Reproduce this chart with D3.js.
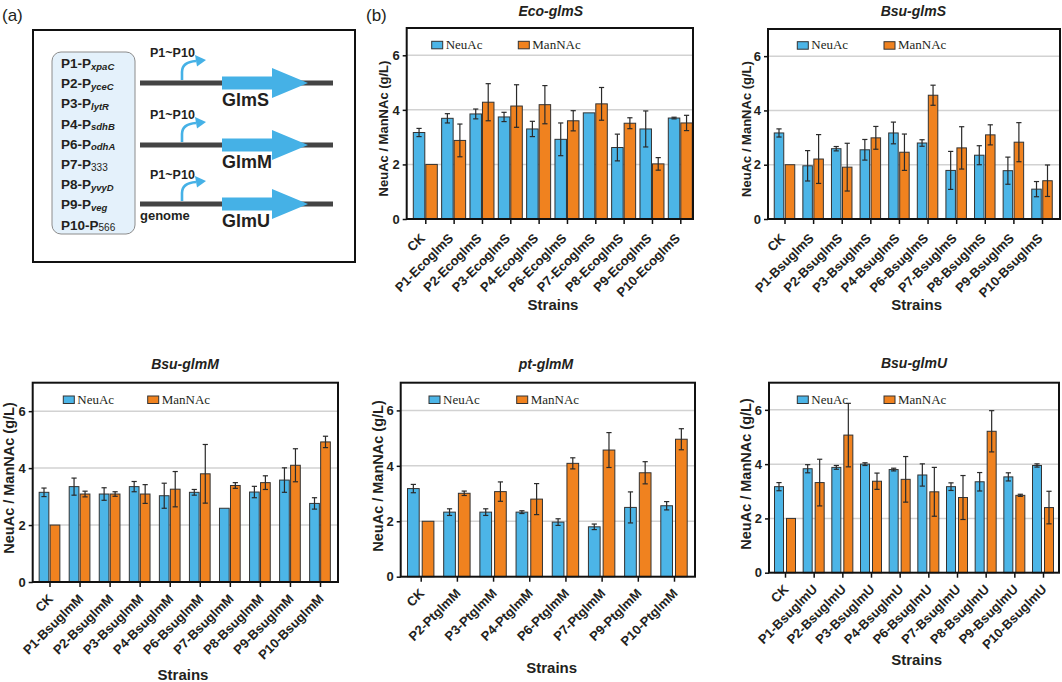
<!DOCTYPE html>
<html><head><meta charset="utf-8">
<script src="https://cdn.jsdelivr.net/npm/d3@7"></script>
<style>body{margin:0;background:#fff} svg{display:block}</style>
</head><body>
<svg id="c" width="1062" height="682"></svg>
<script>
// ---------- data ----------
const seriesNames = ["NeuAc", "ManNAc"];
const yTickValues = [0, 2, 4, 6];
const yDomainMax = 7;

const ecoCategories = ["CK","P1-EcoglmS","P2-EcoglmS","P3-EcoglmS","P4-EcoglmS","P6-EcoglmS","P7-EcoglmS","P8-EcoglmS","P9-EcoglmS","P10-EcoglmS"];
const ecoNeuAc     = [3.17,3.69,3.85,3.74,3.30,2.92,3.89,2.62,3.30,3.70];
const ecoNeuAcErr  = [0.15,0.17,0.18,0.17,0.28,0.60,0.00,0.49,0.66,0.03];
const ecoManNAc    = [2.00,2.88,4.28,4.14,4.19,3.60,4.22,3.51,2.02,3.52];
const ecoManNAcErr = [0.01,0.60,0.68,0.78,0.70,0.37,0.60,0.20,0.23,0.28];

const bsuSCategories = ["CK","P1-BsuglmS","P2-BsuglmS","P3-BsuglmS","P4-BsuglmS","P6-BsuglmS","P7-BsuglmS","P8-BsuglmS","P9-BsuglmS","P10-BsuglmS"];
const bsuSNeuAc     = [3.17,1.96,2.59,2.55,3.17,2.80,1.79,2.35,1.78,1.10];
const bsuSNeuAcErr  = [0.15,0.56,0.08,0.38,0.40,0.12,0.70,0.35,0.50,0.28];
const bsuSManNAc    = [2.00,2.21,1.91,2.99,2.46,4.56,2.62,3.10,2.83,1.41];
const bsuSManNAcErr = [0.02,0.90,0.88,0.42,0.67,0.37,0.78,0.37,0.72,0.58];

const bsuMCategories = ["CK","P1-BsuglmM","P2-BsuglmM","P3-BsuglmM","P4-BsuglmM","P6-BsuglmM","P7-BsuglmM","P8-BsuglmM","P9-BsuglmM","P10-BsuglmM"];
const bsuMNeuAc     = [3.15,3.35,3.09,3.35,3.03,3.15,2.59,3.16,3.58,2.76];
const bsuMNeuAcErr  = [0.15,0.30,0.22,0.18,0.44,0.10,0.01,0.20,0.43,0.20];
const bsuMManNAc    = [2.00,3.09,3.09,3.09,3.26,3.80,3.39,3.49,4.10,4.92];
const bsuMManNAcErr = [0.01,0.10,0.08,0.33,0.62,1.03,0.10,0.24,0.58,0.20];

const ptMCategories = ["CK","P2-PtglmM","P3-PtglmM","P4-PtglmM","P6-PtglmM","P7-PtglmM","P9-PtglmM","P10-PtglmM"];
const ptMNeuAc     = [3.18,2.33,2.33,2.33,1.97,1.80,2.50,2.56];
const ptMNeuAcErr  = [0.15,0.12,0.12,0.05,0.12,0.10,0.56,0.15];
const ptMManNAc    = [2.00,3.01,3.07,2.80,4.09,4.57,3.75,4.96];
const ptMManNAcErr = [0.01,0.08,0.35,0.56,0.20,0.63,0.40,0.38];

const bsuUCategories = ["CK","P1-BsuglmU","P2-BsuglmU","P3-BsuglmU","P4-BsuglmU","P6-BsuglmU","P7-BsuglmU","P8-BsuglmU","P9-BsuglmU","P10-BsuglmU"];
const bsuUNeuAc     = [3.17,3.83,3.88,4.00,3.80,3.60,3.17,3.35,3.53,3.95];
const bsuUNeuAcErr  = [0.15,0.15,0.07,0.05,0.05,0.41,0.14,0.34,0.15,0.06];
const bsuUManNAc    = [2.00,3.32,5.07,3.37,3.44,2.98,2.77,5.21,2.85,2.40];
const bsuUManNAcErr = [0.01,0.86,1.17,0.30,0.84,0.90,0.81,0.76,0.04,0.60];

const promoterNames = ["P1","P2","P3","P4","P6","P7","P8","P9","P10"];
const promoterSubs  = ["xpaC","yceC","lytR","sdhB","odhA","333","yvyD","veg","566"];
const geneNames = ["GlmS","GlmM","GlmU"];

// ---------- style ----------
const BLUE = "#4cb5e7", ORANGE = "#f0821f", DARK = "#231f20";
const SANS = "'Liberation Sans', Arial, Helvetica, sans-serif";
const SERIF = "'Liberation Serif', 'Times New Roman', serif";

const svg = d3.select("#c");
svg.append("rect").attr("width",1062).attr("height",682).attr("fill","#fff");

// ---------- panel (a) ----------
const pa = svg.append("g");
pa.append("text").attr("x",2).attr("y",21).attr("font-family",SANS).attr("font-size",17).attr("fill",DARK).text("(a)");
pa.append("rect").attr("x",33).attr("y",30).attr("width",322).attr("height",232)
  .attr("fill","none").attr("stroke","#111").attr("stroke-width",2);
pa.append("rect").attr("x",52).attr("y",52).attr("width",83).attr("height",182).attr("rx",9)
  .attr("fill","#e4f1fb").attr("stroke","#8c8c8c").attr("stroke-width",1);
promoterNames.forEach((p,i) => {
  const t = pa.append("text").attr("x",61).attr("y",68 + i*20.2)
    .attr("font-family",SANS).attr("font-weight","bold").attr("font-size",13.5).attr("fill",DARK);
  t.append("tspan").text(p + "-P");
  const isNum = /^\d+$/.test(promoterSubs[i]);
  t.append("tspan").attr("dy",1.5).attr("font-size",isNum?10:9.5).attr("font-style",isNum?"normal":"italic")
    .attr("font-weight",isNum?"normal":"bold").text(promoterSubs[i]);
});
const lineYs = [83, 145, 204];
const labelYs = [57, 118.5, 178.5];
geneNames.forEach((g,i) => {
  const y = lineYs[i];
  pa.append("line").attr("x1",140).attr("x2",333).attr("y1",y).attr("y2",y)
    .attr("stroke","#444").attr("stroke-width",5);
  // gene arrow
  pa.append("path").attr("fill","#45b1e6")
    .attr("d",`M222,${y-6.5} L272,${y-6.5} L272,${y-15} L308,${y} L272,${y+15} L272,${y+6.5} L222,${y+6.5} Z`);
  // promoter bent arrow
  pa.append("path").attr("fill","none").attr("stroke","#45b1e6").attr("stroke-width",2.6)
    .attr("d",`M182,${y-3} L182,${y-11} Q182,${y-21} 196,${y-22}`);
  pa.append("path").attr("fill","#45b1e6")
    .attr("d",`M206,${y-23} L195,${y-28} L197,${y-16.5} Z`);
  pa.append("text").attr("x",150).attr("y",labelYs[i]).attr("font-family",SANS).attr("font-size",12.5)
    .attr("font-weight","bold").attr("fill",DARK).text("P1~P10");
  pa.append("text").attr("x",222).attr("y",y+23).attr("font-family",SANS).attr("font-weight","bold")
    .attr("font-size",18).attr("fill",DARK).text(g);
});
pa.append("text").attr("x",140).attr("y",220).attr("font-family",SANS).attr("font-weight","bold")
  .attr("font-size",13).attr("fill",DARK).text("genome");

svg.append("text").attr("x",366).attr("y",21).attr("font-family",SANS).attr("font-size",17).attr("fill",DARK).text("(b)");

// ---------- bar panels ----------
const panels = [
  {title:"Eco-glmS", cats:ecoCategories, neu:ecoNeuAc, neuE:ecoNeuAcErr, man:ecoManNAc, manE:ecoManNAcErr,
   l:406.7,t:28,r:693,b:219, c0:425.3,c1:680.3, barW:11.5,gap:1, titleX:550.7,titleY:15.5,
   yLabX:388,yLabY:128.5,yLabSize:13, strainsX:553,strainsY:310, lblDx:0,lblDy:20, legX:[431.7,518.3],legY:41.3},
  {title:"Bsu-glmS", cats:bsuSCategories, neu:bsuSNeuAc, neuE:bsuSNeuAcErr, man:bsuSManNAc, manE:bsuSManNAcErr,
   l:768,t:29,r:1060,b:219, c0:784.5,c1:1042, barW:9.5,gap:1.5, titleX:913.3,titleY:15.5,
   yLabX:751,yLabY:129,yLabSize:13, strainsX:916.7,strainsY:310, lblDx:1,lblDy:20, legX:[797.3,884],legY:41.7},
  {title:"Bsu-glmM", cats:bsuMCategories, neu:bsuMNeuAc, neuE:bsuMNeuAcErr, man:bsuMManNAc, manE:bsuMManNAcErr,
   l:32.7,t:382.7,r:338,b:582,  c0:49.5,c1:320, barW:9.7,gap:1.3, titleX:185,titleY:368.5,
   yLabX:13.5,yLabY:478,yLabSize:14.5, strainsX:183,strainsY:680, lblDx:4,lblDy:17.5, legX:[63.3,147.7],legY:396},
  {title:"pt-glmM", cats:ptMCategories, neu:ptMNeuAc, neuE:ptMNeuAcErr, man:ptMManNAc, manE:ptMManNAcErr,
   l:400.7,t:382.7,r:695,b:576.7, c0:420.7,c1:674, barW:11.7,gap:3, titleX:546,titleY:368.5,
   yLabX:383,yLabY:476,yLabSize:14.5, strainsX:551.7,strainsY:673, lblDx:4,lblDy:17.5, legX:[429,516.7],legY:396},
  {title:"Bsu-glmU", cats:bsuUCategories, neu:bsuUNeuAc, neuE:bsuUNeuAcErr, man:bsuUManNAc, manE:bsuUManNAcErr,
   l:769,t:382.7,r:1059,b:572.7, c0:785,c1:1043, barW:9,gap:3, titleX:914,titleY:368,
   yLabX:751,yLabY:474,yLabSize:14.5, strainsX:916.7,strainsY:665, lblDx:4,lblDy:17.5, legX:[797.3,884],legY:396}
];

panels.forEach(P => {
  const g = svg.append("g");
  const y = d3.scaleLinear().domain([0, yDomainMax]).range([P.b, P.t]);
  const x = d3.scalePoint().domain(P.cats).range([P.c0, P.c1]);
  const series = [
    {name:seriesNames[0], vals:P.neu, errs:P.neuE, color:BLUE, off:-P.gap/2 - P.barW},
    {name:seriesNames[1], vals:P.man, errs:P.manE, color:ORANGE, off:P.gap/2}
  ];

  // gridlines
  g.selectAll("line.grid").data(yTickValues.filter(v => v > 0)).join("line")
    .attr("x1",P.l).attr("x2",P.r).attr("y1",d=>y(d)).attr("y2",d=>y(d))
    .attr("stroke","#d2d2d2").attr("stroke-width",1.5);

  series.forEach(s => {
    const data = P.cats.map((c,i) => ({c, v:s.vals[i], e:s.errs[i]}));
    g.selectAll(null).data(data).join("rect")
      .attr("x", d => x(d.c) + s.off).attr("width", P.barW)
      .attr("y", d => y(d.v)).attr("height", d => y(0) - y(d.v))
      .attr("fill", s.color).attr("stroke","#333").attr("stroke-width",1);
    const eb = data.filter(d => d.e > 0.02);
    const cx = d => x(d.c) + s.off + P.barW/2;
    g.selectAll(null).data(eb).join("line")
      .attr("x1",cx).attr("x2",cx).attr("y1",d=>y(d.v-d.e)).attr("y2",d=>y(d.v+d.e))
      .attr("stroke","#2a2a2a").attr("stroke-width",1.2);
    ["+","-"].forEach(sign => {
      g.selectAll(null).data(eb).join("line")
        .attr("x1",d=>cx(d)-2.6).attr("x2",d=>cx(d)+2.6)
        .attr("y1",d=>y(sign==="+"?d.v+d.e:d.v-d.e)).attr("y2",d=>y(sign==="+"?d.v+d.e:d.v-d.e))
        .attr("stroke","#2a2a2a").attr("stroke-width",1.2);
    });
  });

  // frame
  g.append("rect").attr("x",P.l).attr("y",P.t).attr("width",P.r-P.l).attr("height",P.b-P.t)
    .attr("fill","none").attr("stroke","#111").attr("stroke-width",2);

  // y axis
  const ya = g.append("g").attr("transform",`translate(${P.l},0)`)
    .call(d3.axisLeft(y).tickValues(yTickValues).tickSize(4).tickPadding(3).tickFormat(d3.format("d")));
  ya.select(".domain").remove();
  ya.selectAll(".tick line").attr("stroke","#111").attr("stroke-width",1.5);
  ya.selectAll(".tick text").attr("font-family",SANS).attr("font-weight","bold").attr("font-size",13).attr("fill",DARK);

  // x axis
  const xa = g.append("g").attr("transform",`translate(0,${P.b})`)
    .call(d3.axisBottom(x).tickSize(5).tickPadding(0));
  xa.select(".domain").remove();
  xa.selectAll(".tick line").attr("stroke","#111").attr("stroke-width",1.5);
  xa.selectAll(".tick text")
    .attr("font-family",SANS).attr("font-weight","bold").attr("font-size",13).attr("fill",DARK)
    .attr("text-anchor","end").attr("dy",0).attr("y",0)
    .attr("transform",`translate(${P.lblDx},${P.lblDy}) rotate(-45)`);

  // title
  g.append("text").attr("x",P.titleX).attr("y",P.titleY).attr("text-anchor","middle")
    .attr("font-family",SANS).attr("font-weight","bold").attr("font-style","italic").attr("font-size",14)
    .attr("fill",DARK).text(P.title);
  // y label
  g.append("text").attr("transform",`translate(${P.yLabX},${P.yLabY}) rotate(-90)`).attr("text-anchor","middle")
    .attr("font-family",SANS).attr("font-weight","bold").attr("font-size",P.yLabSize).attr("fill",DARK)
    .text("NeuAc / ManNAc (g/L)");
  // x label
  g.append("text").attr("x",P.strainsX).attr("y",P.strainsY).attr("text-anchor","middle")
    .attr("font-family",SANS).attr("font-weight","bold").attr("font-size",15).attr("fill",DARK)
    .text("Strains");
  // legend
  series.forEach((s,i) => {
    g.append("rect").attr("x",P.legX[i]).attr("y",P.legY).attr("width",11).attr("height",7.5)
      .attr("fill",s.color).attr("stroke","#333").attr("stroke-width",1);
    g.append("text").attr("x",P.legX[i]+14).attr("y",P.legY+7.5)
      .attr("font-family",SERIF).attr("font-size",13).attr("fill",DARK).text(s.name);
  });
});
</script>
</body></html>
